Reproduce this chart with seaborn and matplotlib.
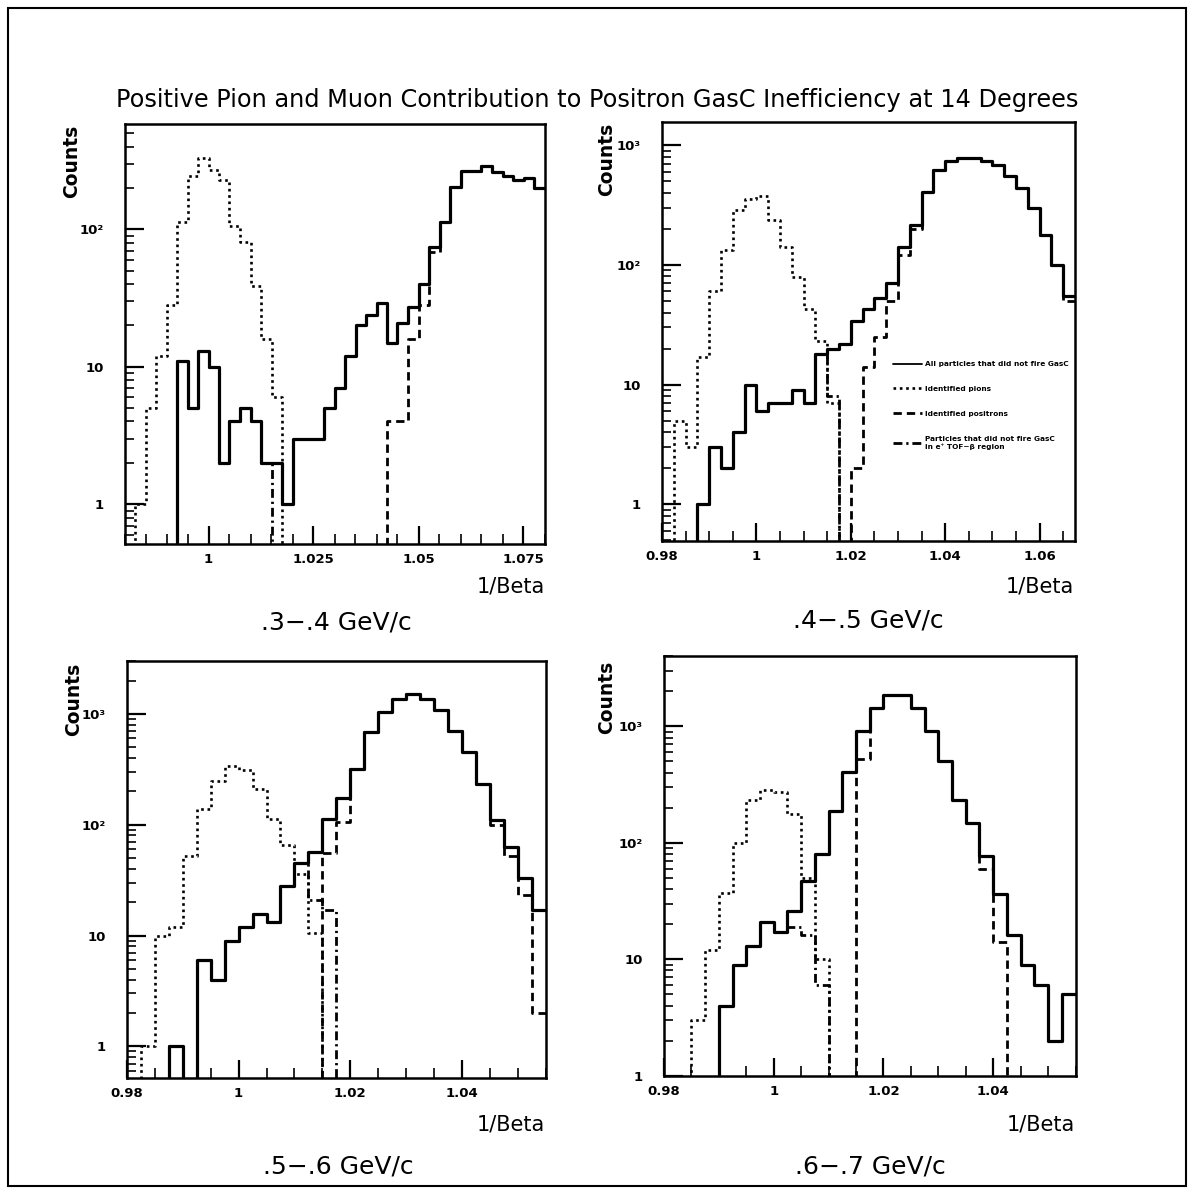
import numpy as np
import pandas as pd
import matplotlib
matplotlib.use("Agg")
import matplotlib.pyplot as plt
import seaborn as sns
from matplotlib.ticker import FixedLocator, FixedFormatter, LogLocator, MultipleLocator, NullFormatter
from matplotlib.lines import Line2D
from matplotlib.patches import Rectangle

# ---------------- data ----------------
TITLE = "Positive Pion and Muon Contribution to Positron GasC Inefficiency at 14 Degrees"
MOMENTUM_LABELS = [".3\u2212.4 GeV/c", ".4\u2212.5 GeV/c", ".5\u2212.6 GeV/c", ".6\u2212.7 GeV/c"]
LEGEND_LABELS = ["All particles that did not fire GasC",
                 "Identified pions",
                 "Identified positrons",
                 "Particles that did not fire GasC\nin e\u207a TOF\u2212\u03b2 region"]
X_START = 0.98
BIN_WIDTH = 0.0025

# panel 1 (.3-.4 GeV/c), 40 bins
p1_all = [0, 0, 0, 0, 0, 11, 5, 13, 10, 2, 4, 5, 4, 2, 2, 1, 3, 3, 3, 5,
          7, 12, 20, 24, 29, 15, 21, 27, 40, 75, 114, 202, 264, 264, 290, 260, 245, 228, 235, 199]
p1_pions = [0, 1, 5, 12, 28, 114, 245, 330, 268, 227, 106, 81, 39, 16, 6, 0, 0, 0, 0, 0,
            0, 0, 0, 0, 0, 0, 0, 0, 0, 0, 0, 0, 0, 0, 0, 0, 0, 0, 0, 0]
p1_positrons = [0, 0, 0, 0, 0, 0, 0, 0, 0, 0, 0, 0, 0, 0, 0, 0, 0, 0, 0, 0,
                0, 0, 0, 0, 0, 4, 4, 16, 28, 68, 114, 202, 264, 264, 290, 260, 245, 228, 235, 199]
p1_tof = [0, 0, 0, 0, 0, 11, 5, 13, 10, 2, 4, 5, 4, 2, 0, 0, 0, 0, 0, 0,
          0, 0, 0, 0, 0, 0, 0, 0, 0, 0, 0, 0, 0, 0, 0, 0, 0, 0, 0, 0]

# panel 2 (.4-.5 GeV/c), 35 bins
p2_all = [0, 0, 0, 1, 3, 2, 4, 10, 6, 7, 7, 9, 7, 18, 20, 22, 34, 43, 53, 71,
          141, 216, 409, 618, 734, 787, 787, 744, 685, 558, 438, 300, 179, 100, 55]
p2_pions = [0, 5, 3, 17, 60, 133, 290, 356, 377, 236, 141, 79, 43, 23, 7, 0, 0, 0, 0, 0,
            0, 0, 0, 0, 0, 0, 0, 0, 0, 0, 0, 0, 0, 0, 0]
p2_positrons = [0, 0, 0, 0, 0, 0, 0, 0, 0, 0, 0, 0, 0, 0, 0, 0, 2, 14, 25, 50,
                121, 199, 409, 618, 734, 787, 787, 744, 685, 558, 438, 300, 179, 100, 50]
p2_tof = [0, 0, 0, 1, 3, 2, 4, 10, 6, 7, 7, 9, 7, 18, 8, 0, 0, 0, 0, 0,
          0, 0, 0, 0, 0, 0, 0, 0, 0, 0, 0, 0, 0, 0, 0]

# panel 3 (.5-.6 GeV/c), 30 bins
p3_all = [0, 0, 0, 1, 0, 6, 4, 9, 12, 15.5, 13.3, 28, 45, 57, 113, 173, 318, 684, 1036, 1360,
          1502, 1360, 1074, 699, 455, 234, 111, 63, 33, 17]
p3_pions = [0, 1, 10, 12, 52, 140, 248, 341, 311, 211, 113, 65, 36, 10.5, 0, 0, 0, 0, 0, 0,
            0, 0, 0, 0, 0, 0, 0, 0, 0, 0]
p3_positrons = [0, 0, 0, 0, 0, 0, 0, 0, 0, 0, 0, 0, 0, 0, 55, 105, 318, 684, 1036, 1360,
                1502, 1360, 1074, 699, 455, 234, 100, 52, 23, 2]
p3_tof = [0, 0, 0, 1, 0, 6, 4, 9, 12, 15.5, 13.3, 28, 45, 21, 17, 0, 0, 0, 0, 0,
          0, 0, 0, 0, 0, 0, 0, 0, 0, 0]

# panel 4 (.6-.7 GeV/c), 30 bins
p4_all = [0, 0, 0, 0, 4, 9, 13, 21, 17, 26, 47, 80, 186, 409, 909, 1435, 1860, 1860, 1435, 909,
          509, 233, 147, 77, 36, 16, 9, 6, 2, 5]
p4_pions = [0, 0, 3, 12, 37, 100, 233, 286, 276, 177, 50, 10, 0, 0, 0, 0, 0, 0, 0, 0,
            0, 0, 0, 0, 0, 0, 0, 0, 0, 0]
p4_positrons = [0, 0, 0, 0, 0, 0, 0, 0, 0, 0, 0, 0, 0, 0, 520, 1435, 1860, 1860, 1435, 909,
                509, 233, 147, 60, 14, 0, 0, 0, 0, 0]
p4_tof = [0, 0, 0, 0, 4, 9, 13, 21, 17, 19, 16, 6, 0, 0, 0, 0, 0, 0, 0, 0,
          0, 0, 0, 0, 0, 0, 0, 0, 0, 0]

x_ticks_p1 = [1.0, 1.025, 1.05, 1.075]
x_labels_p1 = ["1", "1.025", "1.05", "1.075"]
x_ticks_p2 = [0.98, 1.0, 1.02, 1.04, 1.06]
x_labels_p2 = ["0.98", "1", "1.02", "1.04", "1.06"]
x_ticks_p34 = [0.98, 1.0, 1.02, 1.04]
x_labels_p34 = ["0.98", "1", "1.02", "1.04"]
y_ticks = [1, 10, 100, 1000]
y_labels = ["1", "10", "10\u00b2", "10\u00b3"]

# ---------------- style ----------------
sns.set_theme(style="white")
plt.rcParams["font.family"] = ["DejaVu Sans"]
plt.rcParams["axes.linewidth"] = 1.8
plt.rcParams["axes.edgecolor"] = "black"
plt.rcParams["text.color"] = "black"

W, H = 1193, 1198
fig = plt.figure(figsize=(W / 100, H / 100), dpi=100)


def box(x0, y0, x1, y1):
    return [x0 / W, 1 - y1 / H, (x1 - x0) / W, (y1 - y0) / H]


STYLES = {
    "all": dict(linestyle="-", linewidth=2.3),
    "pions": dict(linestyle=(0, (1.0, 1.4)), linewidth=1.9),
    "positrons": dict(linestyle=(0, (3.0, 1.8)), linewidth=2.0),
    "tof": dict(linestyle=(0, (3.2, 1.4, 0.8, 1.4)), linewidth=2.0),
}

panels = [
    dict(pos=(124.5, 124, 544.5, 543.5), nb=40, xlim=(0.98, 1.08), ylim=(0.518, 584),
         xt=x_ticks_p1, xl=x_labels_p1,
         data=dict(all=p1_all, pions=p1_pions, positrons=p1_positrons, tof=p1_tof),
         counts=(72, 125), beta=(545, 587), mom=(336, 622)),
    dict(pos=(662, 122, 1075, 540.7), nb=35, xlim=(0.98, 1.0675), ylim=(0.496, 1563),
         xt=x_ticks_p2, xl=x_labels_p2,
         data=dict(all=p2_all, pions=p2_pions, positrons=p2_positrons, tof=p2_tof),
         counts=(607, 123), beta=(1074, 587), mom=(868, 621)),
    dict(pos=(127, 660.7, 545.5, 1078), nb=30, xlim=(0.98, 1.055), ylim=(0.518, 3020),
         xt=x_ticks_p34, xl=x_labels_p34,
         data=dict(all=p3_all, pions=p3_pions, positrons=p3_positrons, tof=p3_tof),
         counts=(74, 663), beta=(545, 1125), mom=(338, 1166)),
    dict(pos=(664, 655.5, 1075.5, 1075.6), nb=30, xlim=(0.98, 1.055), ylim=(1.0, 4070),
         xt=x_ticks_p34, xl=x_labels_p34,
         data=dict(all=p4_all, pions=p4_pions, positrons=p4_positrons, tof=p4_tof),
         counts=(607, 661), beta=(1075, 1124), mom=(870, 1166)),
]

axes = []
for i, p in enumerate(panels):
    ax = fig.add_axes(box(*p["pos"]))
    axes.append(ax)
    nb = p["nb"]
    centers = X_START + BIN_WIDTH * (np.arange(nb) + 0.5)
    brange = (X_START, X_START + BIN_WIDTH * nb)
    for key in ["tof", "positrons", "pions", "all"]:
        df = pd.DataFrame({"beta_inv": centers, "counts": np.asarray(p["data"][key], dtype=float)})
        sns.histplot(data=df, x="beta_inv", weights="counts", bins=nb, binrange=brange,
                     element="step", fill=False, color="black", ax=ax, **STYLES[key])
    ax.set_yscale("log")
    ax.set_xlim(*p["xlim"])
    ax.set_ylim(*p["ylim"])
    ax.set_xlabel("")
    ax.set_ylabel("")
    for s in ax.spines.values():
        s.set_visible(True)
        s.set_linewidth(1.8)
        s.set_color("black")

    ax.yaxis.set_major_locator(FixedLocator(y_ticks))
    ax.yaxis.set_major_formatter(FixedFormatter(y_labels))
    ax.yaxis.set_minor_locator(LogLocator(base=10, subs=np.arange(2, 10), numticks=20))
    ax.yaxis.set_minor_formatter(NullFormatter())
    ax.xaxis.set_major_locator(FixedLocator(p["xt"]))
    ax.xaxis.set_major_formatter(FixedFormatter(p["xl"]))
    ax.xaxis.set_minor_locator(MultipleLocator(0.005))

    ax.tick_params(axis="y", which="major", direction="in", length=13.5, width=1.6,
                   left=True, right=False, pad=15, labelsize=9.5, colors="black")
    ax.tick_params(axis="y", which="minor", direction="in", length=6.3, width=1.4,
                   left=True, right=False)
    ax.tick_params(axis="x", which="major", direction="in", length=13, width=1.6,
                   bottom=True, top=False, pad=6.5, labelsize=9.5, colors="black")
    ax.tick_params(axis="x", which="minor", direction="in", length=7, width=1.4,
                   bottom=True, top=False)
    for lab in ax.get_xticklabels() + ax.get_yticklabels():
        lab.set_fontweight("bold")
    ax.grid(False)
    ax.set_facecolor("white")

    cx, cy = p["counts"]
    fig.text(cx / W, 1 - cy / H, "Counts", rotation=90, ha="center", va="top",
             fontsize=13.5, fontweight="bold")
    bx, by = p["beta"]
    fig.text(bx / W, 1 - by / H, "1/Beta", ha="right", va="center", fontsize=15)
    mx, my = p["mom"]
    fig.text(mx / W, 1 - my / H, MOMENTUM_LABELS[i], ha="center", va="center", fontsize=18)

# legend in the top-right panel
handles = [Line2D([], [], color="black", **STYLES[k]) for k in ["all", "pions", "positrons", "tof"]]
handles[0].set_linewidth(1.3)
axes[1].legend(handles, LEGEND_LABELS, loc="upper left",
               bbox_to_anchor=(893 / W, 1 - 361 / H), bbox_transform=fig.transFigure,
               frameon=False, prop=dict(size=5.3, weight="bold"), handlelength=3.9,
               handletextpad=0.45, labelspacing=2.55, borderaxespad=0, borderpad=0)

fig.text(597 / W, 1 - 100 / H, TITLE, ha="center", va="center", fontsize=17.3)

# outer page frame
fig.patches.append(Rectangle((8 / W, 1 - 1186 / H), (1186 - 8) / W, (1186 - 8) / H,
                             transform=fig.transFigure, fill=False, edgecolor="black",
                             linewidth=1.5))

fig.savefig("out.png", dpi=100, facecolor="white")
